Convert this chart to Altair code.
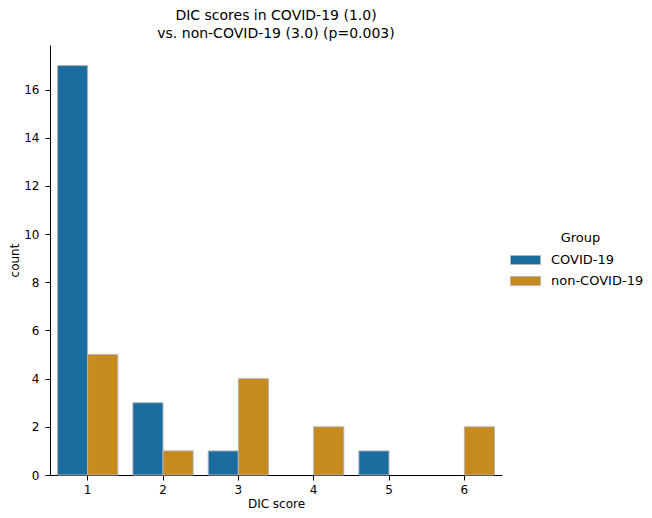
import altair as alt
import pandas as pd

scores = ["1", "2", "3", "4", "5", "6"]
covid_counts = [17, 3, 1, 0, 1, 0]
noncovid_counts = [5, 1, 4, 2, 0, 2]
groups = ["COVID-19", "non-COVID-19"]
colors = ["#1a6d9e", "#c68a1e"]
y_ticks = [0, 2, 4, 6, 8, 10, 12, 14, 16]

rows = []
for s, c, n in zip(scores, covid_counts, noncovid_counts):
    if c > 0:
        rows.append({"score": s, "group": groups[0], "count": c})
    if n > 0:
        rows.append({"score": s, "group": groups[1], "count": n})
df = pd.DataFrame(rows)

font = "DejaVu Sans"

chart = alt.Chart(df).mark_bar(stroke="#b5b5b5", strokeWidth=1).encode(
    x=alt.X("score:N", scale=alt.Scale(domain=scores, paddingInner=0.2, paddingOuter=0.1),
            axis=alt.Axis(title="DIC score", labelAngle=0, domain=True, domainColor="black",
                          tickColor="black", tickSize=5, labelPadding=4, titlePadding=3)),
    xOffset=alt.XOffset("group:N", scale=alt.Scale(domain=groups, paddingInner=0, paddingOuter=0)),
    y=alt.Y("count:Q", scale=alt.Scale(domain=[0, 17.85], nice=False),
            axis=alt.Axis(title="count", values=y_ticks, grid=False, domainColor="black",
                          tickColor="black", tickSize=5, labelPadding=6, titlePadding=2)),
    color=alt.Color("group:N", scale=alt.Scale(domain=groups, range=colors),
                    legend=alt.Legend(title="Group", orient="none", legendX=467.5, legendY=187,
                                      symbolType="M-2,-0.6H2V0.6H-2Z", symbolSize=225,
                                      symbolStrokeColor="#b5b5b5", symbolStrokeWidth=1,
                                      titleAnchor="middle", titlePadding=7,
                                      labelFontSize=13, titleFontSize=13, titleFontWeight="normal",
                                      rowPadding=6, labelOffset=17.5)),
).properties(
    width=452,
    height=430,
    autosize=alt.AutoSizeParams(type="none"),
    padding={"left": 42, "top": 37, "right": 142, "bottom": 35},
    title=alt.TitleParams(["DIC scores in COVID-19 (1.0)", "vs. non-COVID-19 (3.0) (p=0.003)"],
                          fontSize=14, fontWeight="normal", font=font, anchor="middle",
                          lineHeight=18, offset=4.5, color="black"),
).configure_view(stroke=None).configure_axis(
    labelFont=font, titleFont=font, labelFontSize=12, titleFontSize=12,
    titleFontWeight="normal", labelColor="black", titleColor="black", grid=False
).configure_legend(labelFont=font, titleFont=font, labelColor="black", titleColor="black")

chart.save("out.html", embed_options={"renderer": "svg", "actions": False})
